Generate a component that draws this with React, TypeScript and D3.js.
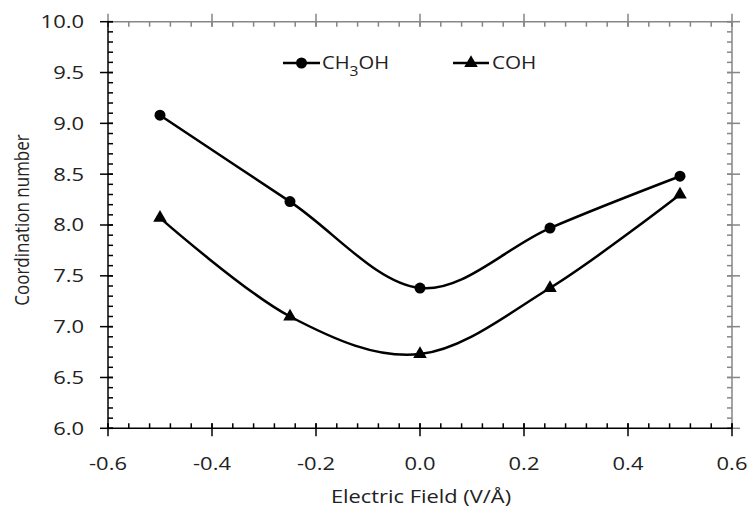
import React from "react";
import * as d3 from "d3";

// Electric field values (V/Å)
const fields = [-0.5, -0.25, 0.0, 0.25, 0.5];
// Coordination numbers for each adsorbate
const ch3ohValues = [9.08, 8.23, 7.38, 7.97, 8.48];
const cohValues = [8.07, 7.1, 6.73, 7.38, 8.3];

const xTicks = [-0.6, -0.4, -0.2, 0.0, 0.2, 0.4, 0.6];
const yTicks = [6.0, 6.5, 7.0, 7.5, 8.0, 8.5, 9.0, 9.5, 10.0];

const W = 748;
const H = 510;
const left = 108;
const right = 732;
const top = 21.7;
const bottom = 428.3;

const FONT = "'Open Sans', 'Noto Sans', sans-serif";
// glyphs are drawn slightly wide
const SX = 1.22;

export default function App() {
  const x = d3.scaleLinear().domain([-0.6, 0.6]).range([left, right]);
  const y = d3.scaleLinear().domain([6, 10]).range([bottom, top]);

  const line = d3
    .line<number>()
    .x((_, i) => x(fields[i]))
    .y((v) => y(v))
    .curve(d3.curveCardinal.tension(0));

  const xMinor = d3.range(-0.6, 0.6001, 0.04).map((v) => +v.toFixed(2));
  const yMinor = d3.range(6, 10.0001, 0.1).map((v) => +v.toFixed(1));

  const black = "#000";
  const gray = "#868686";
  const tri = d3.symbol().type(d3.symbolTriangle).size(80)();

  return (
    <svg width={W} height={H} style={{ position: "absolute", left: 0, top: 0 }}>
      <rect width={W} height={H} fill="#fff" />

      {/* mirrored frame: top and right */}
      <g stroke={gray} strokeWidth={1.5}>
        <line x1={left} x2={right} y1={top} y2={top} />
        <line x1={right} x2={right} y1={top} y2={bottom} />
        {xMinor.map((v) => (
          <line key={"tm" + v} x1={x(v)} x2={x(v)} y1={top} y2={top + 5} />
        ))}
        {xTicks.map((v) => (
          <line key={"tM" + v} x1={x(v)} x2={x(v)} y1={top - 8} y2={top + 5} />
        ))}
        {yMinor.map((v) => (
          <line key={"rm" + v} x1={right - 5} x2={right} y1={y(v)} y2={y(v)} />
        ))}
        {yTicks.map((v) => (
          <line key={"rM" + v} x1={right - 5} x2={right + 8} y1={y(v)} y2={y(v)} />
        ))}
      </g>

      {/* primary axes: left and bottom */}
      <g stroke={black} strokeWidth={1.5}>
        <line x1={left} x2={right} y1={bottom} y2={bottom} />
        <line x1={left} x2={left} y1={top} y2={bottom} />
        {xMinor.map((v) => (
          <line key={"bm" + v} x1={x(v)} x2={x(v)} y1={bottom - 5} y2={bottom} />
        ))}
        {xTicks.map((v) => (
          <line key={"bM" + v} x1={x(v)} x2={x(v)} y1={bottom - 5} y2={bottom + 8} />
        ))}
        {yMinor.map((v) => (
          <line key={"lm" + v} x1={left} x2={left + 5} y1={y(v)} y2={y(v)} />
        ))}
        {yTicks.map((v) => (
          <line key={"lM" + v} x1={left - 8} x2={left + 5} y1={y(v)} y2={y(v)} />
        ))}
      </g>

      {/* tick labels */}
      <g fontFamily={FONT} fontSize={18} fill="#222">
        {xTicks.map((v) => (
          <text
            key={"xl" + v}
            transform={`translate(${x(v)},470) scale(${SX},1)`}
            textAnchor="middle"
          >
            {v.toFixed(1)}
          </text>
        ))}
        {yTicks.map((v) => (
          <text
            key={"yl" + v}
            transform={`translate(84,${y(v)}) scale(${SX},1)`}
            dy="0.36em"
            textAnchor="end"
          >
            {v.toFixed(1)}
          </text>
        ))}
      </g>

      {/* axis titles */}
      <text
        transform={`translate(421,503) scale(1.25,1)`}
        textAnchor="middle"
        fontFamily={FONT}
        fontSize={17.5}
        fill="#222"
      >
        Electric Field (V/Å)
      </text>
      <text
        transform={`translate(29,220) scale(1.2,1) rotate(-90)`}
        textAnchor="middle"
        fontFamily={FONT}
        fontSize={17}
        fill="#222"
      >
        Coordination number
      </text>

      {/* series */}
      <path d={line(ch3ohValues) ?? ""} fill="none" stroke={black} strokeWidth={2.5} />
      <path d={line(cohValues) ?? ""} fill="none" stroke={black} strokeWidth={2.5} />
      {ch3ohValues.map((v, i) => (
        <circle key={"c" + i} cx={x(fields[i])} cy={y(v)} r={5.5} fill={black} />
      ))}
      {cohValues.map((v, i) => (
        <path key={"t" + i} d={tri ?? ""} transform={`translate(${x(fields[i])},${y(v)})`} fill={black} />
      ))}

      {/* legend */}
      <g fontFamily={FONT} fontSize={18} fill="#222">
        <line x1={283} x2={320} y1={63} y2={63} stroke={black} strokeWidth={2.5} />
        <circle cx={301.5} cy={63} r={5.5} fill={black} />
        <text transform={`translate(322,63) scale(1.12,1)`} dy="0.36em">
          CH<tspan fontSize={14} dy="7">3</tspan>
          <tspan dy="-7">OH</tspan>
        </text>
        <line x1={453} x2={489} y1={63} y2={63} stroke={black} strokeWidth={2.5} />
        <path d={tri ?? ""} transform="translate(471,63)" fill={black} />
        <text transform={`translate(492,63) scale(1.15,1)`} dy="0.36em">
          COH
        </text>
      </g>
    </svg>
  );
}
